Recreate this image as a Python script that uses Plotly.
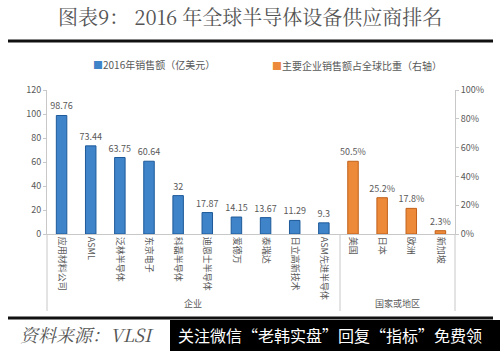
import plotly.graph_objects as go

companies = ["应用材料公司", "ASML", "泛林半导体", "东京电子", "科磊半导体",
             "迪恩士半导体", "爱德万", "泰瑞达", "日立高新技术", "ASM先进半导体"]
sales = [98.76, 73.44, 63.75, 60.64, 32, 17.87, 14.15, 13.67, 11.29, 9.3]
sales_text = ["98.76", "73.44", "63.75", "60.64", "32", "17.87", "14.15", "13.67", "11.29", "9.3"]
regions = ["美国", "日本", "欧洲", "新加坡"]
share = [0.505, 0.252, 0.178, 0.023]
share_text = ["50.5%", "25.2%", "17.8%", "2.3%"]
left_ticks = [0, 20, 40, 60, 80, 100, 120]
right_ticks = [0, 0.2, 0.4, 0.6, 0.8, 1.0]
right_ticktext = ["0%", "20%", "40%", "60%", "80%", "100%"]

W, H = 500, 351
L, R, T, B = 47, 455, 90, 234
pw, ph = R - L, B - T

def px(x):
    return (x - L) / pw

def py(y):
    return (B - y) / ph

cats = companies + regions
xs_c = list(range(len(companies)))
xs_r = list(range(len(companies), len(cats)))

CJK = "Noto Sans CJK SC"
GRAY = "#595959"

fig = go.Figure()
fig.add_trace(go.Bar(
    x=xs_c, y=sales, width=0.36, yaxis="y",
    marker=dict(color="#3f83c8", line=dict(color="#1e5a9a", width=1)),
    text=sales_text, textposition="outside", cliponaxis=False, constraintext="none",
    textfont=dict(size=9, color=GRAY, family=CJK),
    showlegend=False,
))
fig.add_trace(go.Bar(
    x=xs_r, y=share, width=0.36, yaxis="y2",
    marker=dict(color="#ec8a3a", line=dict(color="#c0601a", width=1)),
    text=share_text, textposition="outside", cliponaxis=False, constraintext="none",
    textfont=dict(size=9, color=GRAY, family=CJK),
    showlegend=False,
))

shapes = []
for xp in [L, 340, R]:
    shapes.append(dict(type="line", xref="paper", yref="paper",
                       x0=px(xp), x1=px(xp), y0=py(234), y1=py(311),
                       line=dict(color="#c8c8c8", width=1)))
shapes.append(dict(type="line", xref="paper", yref="paper",
                   x0=px(8), x1=px(493), y0=py(41), y1=py(41),
                   line=dict(color="#111111", width=3)))
shapes.append(dict(type="line", xref="paper", yref="paper",
                   x0=px(8), x1=px(493), y0=py(318), y1=py(318),
                   line=dict(color="#111111", width=3)))
shapes.append(dict(type="rect", xref="paper", yref="paper",
                   x0=px(170), x1=px(500), y0=py(320), y1=py(351),
                   fillcolor="#000000", line=dict(width=0)))

annotations = [
    dict(text="图表9： 2016 年全球半导体设备供应商排名", x=px(250), y=py(16),
         xref="paper", yref="paper", showarrow=False, xanchor="center", yanchor="middle",
         font=dict(size=20, color="#555555", family="Noto Serif CJK SC, " + CJK)),
    dict(text='<span style="color:#3f83c8">■</span>2016年销售额（亿美元）', x=px(91), y=py(64),
         xref="paper", yref="paper", showarrow=False, xanchor="left", yanchor="middle",
         font=dict(size=10, color=GRAY, family=CJK)),
    dict(text='<span style="color:#ec8a3a">■</span>主要企业销售额占全球比重（右轴）', x=px(270), y=py(66),
         xref="paper", yref="paper", showarrow=False, xanchor="left", yanchor="middle",
         font=dict(size=10, color=GRAY, family=CJK)),
    dict(text="企业", x=px(193), y=py(303),
         xref="paper", yref="paper", showarrow=False, xanchor="center", yanchor="middle",
         font=dict(size=9, color=GRAY, family=CJK)),
    dict(text="国家或地区", x=px(397), y=py(303),
         xref="paper", yref="paper", showarrow=False, xanchor="center", yanchor="middle",
         font=dict(size=9, color=GRAY, family=CJK)),
    dict(text="<i>资料来源：VLSI</i>", x=px(18), y=py(334),
         xref="paper", yref="paper", showarrow=False, xanchor="left", yanchor="middle",
         font=dict(size=18, color="#555555", family="Noto Serif CJK SC, " + CJK)),
    dict(text="关注微信“老韩实盘”回复“指标”免费领", x=px(176), y=py(335),
         xref="paper", yref="paper", showarrow=False, xanchor="left", yanchor="middle",
         font=dict(size=16, color="#ffffff", family=CJK)),
]

fig.update_layout(
    width=W, height=H,
    margin=dict(l=L, r=W - R, t=T, b=H - B),
    paper_bgcolor="white", plot_bgcolor="white",
    bargap=0.6,
    xaxis=dict(
        range=[-0.5, len(cats) - 0.5], tickmode="array",
        tickvals=list(range(len(cats))), ticktext=cats, tickangle=90,
        showline=True, linecolor="#c8c8c8", linewidth=1, showgrid=False,
        zeroline=False, ticks="",
        tickfont=dict(size=9, color=GRAY, family=CJK),
    ),
    yaxis=dict(
        range=[0, 120], tickvals=left_ticks, showgrid=False, zeroline=False,
        showline=True, linecolor="#c8c8c8", linewidth=1, ticks="outside",
        ticklen=3, tickcolor="#c8c8c8",
        tickfont=dict(size=9, color=GRAY, family=CJK),
    ),
    yaxis2=dict(
        range=[0, 1.0], tickvals=right_ticks, ticktext=right_ticktext,
        overlaying="y", side="right", showgrid=False, zeroline=False,
        showline=True, linecolor="#c8c8c8", linewidth=1, ticks="outside",
        ticklen=3, tickcolor="#c8c8c8",
        tickfont=dict(size=9, color=GRAY, family=CJK),
    ),
    shapes=shapes,
    annotations=annotations,
)

fig.write_html("out.html")
